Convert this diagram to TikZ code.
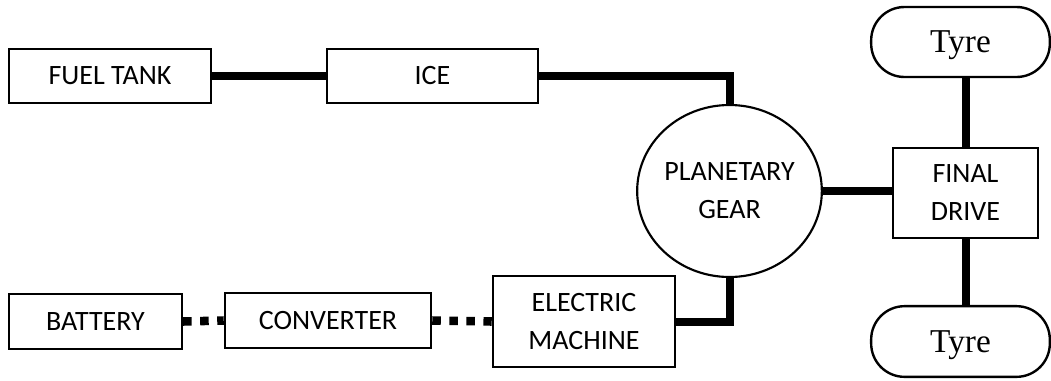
\documentclass[tikz,border=0pt]{standalone}
\usepackage{fontspec}
\setmainfont{Carlito}
\newfontfamily\tyrefont{Liberation Serif}
\usetikzlibrary{shapes.geometric}
\tikzset{
  blk/.style={draw, line width=1.9pt, inner sep=0pt, align=center,
    font=\fontsize{21}{28.5}\selectfont},
  gear/.style={draw, ellipse, line width=1.6pt, inner sep=0pt, align=center,
    font=\fontsize{21}{28.5}\selectfont},
  tyrebox/.style={draw, line width=1.8pt, rounded corners=25pt, inner sep=0pt,
    text depth=0pt, font=\tyrefont\fontsize{25}{28}\selectfont},
  shaft/.style={line width=6pt},
  elink/.style={line width=6.4pt, dash pattern=on 6.4pt off 6.4pt},
}
\begin{document}
\begin{tikzpicture}[x=0.75pt,y=-0.75pt]
\useasboundingbox (0,0) rectangle (1051,380);
\node[blk, minimum width=151.5pt, minimum height=40.5pt] (fuel) at (110,76) {FUEL TANK};
\node[blk, minimum width=158pt, minimum height=40.5pt] (ice) at (432.5,76) {ICE};
\node[gear, minimum width=138.5pt, minimum height=129pt] (pg) at (729.5,191) {PLANETARY\\GEAR};
\node[blk, minimum width=108.5pt, minimum height=67.5pt] (fd) at (965.5,193) {FINAL\\DRIVE};
\node[tyrebox, minimum width=134pt, minimum height=52.5pt] (t1) at (960.5,42) {Tyre};
\node[tyrebox, minimum width=134pt, minimum height=53pt] (t2) at (960.5,341.5) {Tyre};
\node[blk, minimum width=129.5pt, minimum height=41pt] (bat) at (95.5,321.5) {BATTERY};
\node[blk, minimum width=154.5pt, minimum height=41pt] (conv) at (328,320.5) {CONVERTER};
\node[blk, minimum width=136.5pt, minimum height=68pt] (em) at (584,321.5) {ELECTRIC\\MACHINE};
\draw[shaft] (fuel.east) -- (ice.west);
\draw[shaft] (ice.east) -| (pg.north);
\draw[shaft] (em.east) -| (pg.south);
\draw[shaft] (pg.east) -- (pg.east -| fd.west);
\draw[shaft] (fd.north) -- (fd.north |- t1.south);
\draw[shaft] (fd.south) -- (fd.south |- t2.north);
\draw[elink] (bat.east) -- (conv.west);
\draw[elink] (conv.east) -- (em.west);
\end{tikzpicture}
\end{document}
